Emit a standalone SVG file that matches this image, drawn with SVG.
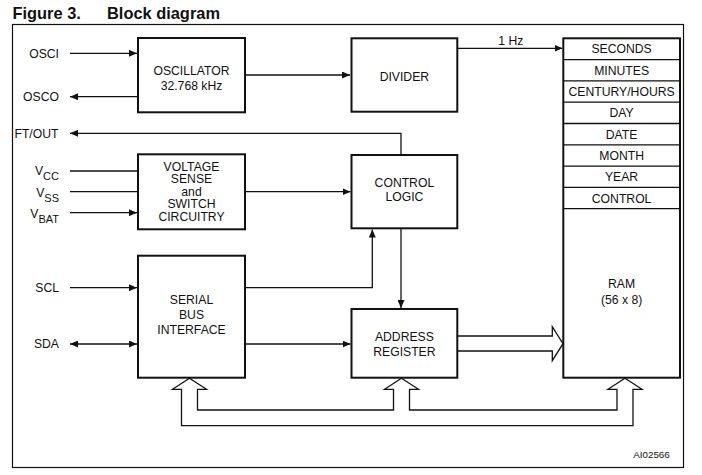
<svg xmlns="http://www.w3.org/2000/svg" width="702" height="475" viewBox="0 0 702 475">
<defs>
<style>
text{font-family:"Liberation Sans",Arial,sans-serif;font-size:12.2px;fill:#111}
.t{text-anchor:middle}
.p{text-anchor:end}
.box{fill:#fff;stroke:#111;stroke-width:2}
.ln{fill:none;stroke:#111;stroke-width:1.3}
.title{font-size:16.4px;font-weight:bold}
</style>
<marker id="ah" viewBox="0 0 8 7" refX="8" refY="3.5" markerWidth="8" markerHeight="7" markerUnits="userSpaceOnUse" orient="auto-start-reverse">
<path d="M0,0 L8,3.5 L0,7 z" fill="#111"/>
</marker>
</defs>
<rect width="702" height="475" fill="#fff"/>
<text class="title" x="12.5" y="19">Figure 3.</text>
<text class="title" x="107" y="19">Block diagram</text>
<rect x="12.5" y="24.5" width="671" height="443" fill="none" stroke="#111" stroke-width="1.2"/>

<g id="connectors">
<path class="ln" d="M70,53.3 H137" marker-end="url(#ah)"/>
<path class="ln" d="M138,96.7 H70" marker-end="url(#ah)"/>
<path class="ln" d="M245,75 H350" marker-end="url(#ah)"/>
<path class="ln" d="M457,48.3 H562.5" marker-end="url(#ah)"/>
<path class="ln" d="M401,155 V133.3 H70" marker-end="url(#ah)"/>
<path class="ln" d="M70,171 H138"/>
<path class="ln" d="M70,191.7 H138"/>
<path class="ln" d="M70,212.7 H137" marker-end="url(#ah)"/>
<path class="ln" d="M245,191.7 H350.5" marker-end="url(#ah)"/>
<path class="ln" d="M70,287.7 H137" marker-end="url(#ah)"/>
<path class="ln" d="M70,344 H137" marker-start="url(#ah)" marker-end="url(#ah)"/>
<path class="ln" d="M245,287.7 H372.3 V229.5" marker-end="url(#ah)"/>
<path class="ln" d="M401,229 V308" marker-end="url(#ah)"/>
<path class="ln" d="M245,344 H350.5" marker-end="url(#ah)"/>
<polyline class="ln" fill="#fff" style="fill:#fff" points="457,336 552.3,336 552.3,326.7 563,343.7 552.3,360.7 552.3,351 457,351"/>
<polygon class="ln" style="fill:#fff" points="181.5,425.7 181.5,389.3 172.5,389.3 189.5,378.3 206.5,389.3 197.5,389.3 197.5,410 393.5,410 393.5,389.3 384.5,389.3 401.5,378.3 418.5,389.3 409.5,389.3 409.5,410 617,410 617,389.3 608,389.3 625,378.3 642,389.3 633,389.3 633,425.7"/>
</g>

<g id="pins">
<text class="p" x="59" y="57.6">OSCI</text>
<text class="p" x="59" y="101">OSCO</text>
<text class="p" x="58.5" y="137.6">FT/OUT</text>
<text class="p" x="59" y="175.3">V<tspan font-size="11" dy="4.5">CC</tspan></text>
<text class="p" x="59" y="197">V<tspan font-size="11" dy="4.5">SS</tspan></text>
<text class="p" x="59" y="218">V<tspan font-size="11" dy="4.5">BAT</tspan></text>
<text class="p" x="59" y="292">SCL</text>
<text class="p" x="59" y="348.3">SDA</text>
<text class="t" x="510.8" y="45">1 Hz</text>
</g>

<g id="oscillator">
<rect class="box" x="138" y="38" width="107" height="74.3"/>
<text class="t" x="191.5" y="75">OSCILLATOR</text>
<text class="t" x="191.5" y="90.3">32.768 kHz</text>
</g>

<g id="divider">
<rect class="box" x="351.5" y="38.3" width="105.8" height="73.4"/>
<text class="t" x="404.4" y="81">DIVIDER</text>
</g>

<g id="voltage-sense">
<rect class="box" x="138" y="154.3" width="107" height="75"/>
<text class="t" x="191.5" y="170.5">VOLTAGE</text>
<text class="t" x="191.5" y="183.2">SENSE</text>
<text class="t" x="191.5" y="195.8">and</text>
<text class="t" x="191.5" y="208.3">SWITCH</text>
<text class="t" x="191.5" y="221">CIRCUITRY</text>
</g>

<g id="control-logic">
<rect class="box" x="351.5" y="155" width="105.8" height="73.3"/>
<text class="t" x="404.4" y="186.6">CONTROL</text>
<text class="t" x="404.4" y="201">LOGIC</text>
</g>

<g id="serial-bus-interface">
<rect class="box" x="138" y="255.7" width="107" height="122"/>
<text class="t" x="191.5" y="304.3">SERIAL</text>
<text class="t" x="191.5" y="319.3">BUS</text>
<text class="t" x="191.5" y="333.6">INTERFACE</text>
</g>

<g id="address-register">
<rect class="box" x="351.5" y="309" width="105.8" height="68.7"/>
<text class="t" x="404.4" y="341">ADDRESS</text>
<text class="t" x="404.4" y="356">REGISTER</text>
</g>

<g id="registers-ram">
<rect class="box" x="563.3" y="38.3" width="116.7" height="339.4"/>
<path class="ln" d="M563.3,59.6 H680 M563.3,80.9 H680 M563.3,102.2 H680 M563.3,123.5 H680 M563.3,144.8 H680 M563.3,166.1 H680 M563.3,187.4 H680 M563.3,208.7 H680"/>
<text class="t" x="621.6" y="53.4">SECONDS</text>
<text class="t" x="621.6" y="74.7">MINUTES</text>
<text class="t" x="621.6" y="96">CENTURY/HOURS</text>
<text class="t" x="621.6" y="117.3">DAY</text>
<text class="t" x="621.6" y="138.6">DATE</text>
<text class="t" x="621.6" y="159.9">MONTH</text>
<text class="t" x="621.6" y="181.2">YEAR</text>
<text class="t" x="621.6" y="202.5">CONTROL</text>
<text class="t" x="621.6" y="287.6">RAM</text>
<text class="t" x="621.6" y="304.3">(56 x 8)</text>
</g>

<text x="651.5" y="458.3" class="t" style="font-size:9.8px">AI02566</text>
</svg>
